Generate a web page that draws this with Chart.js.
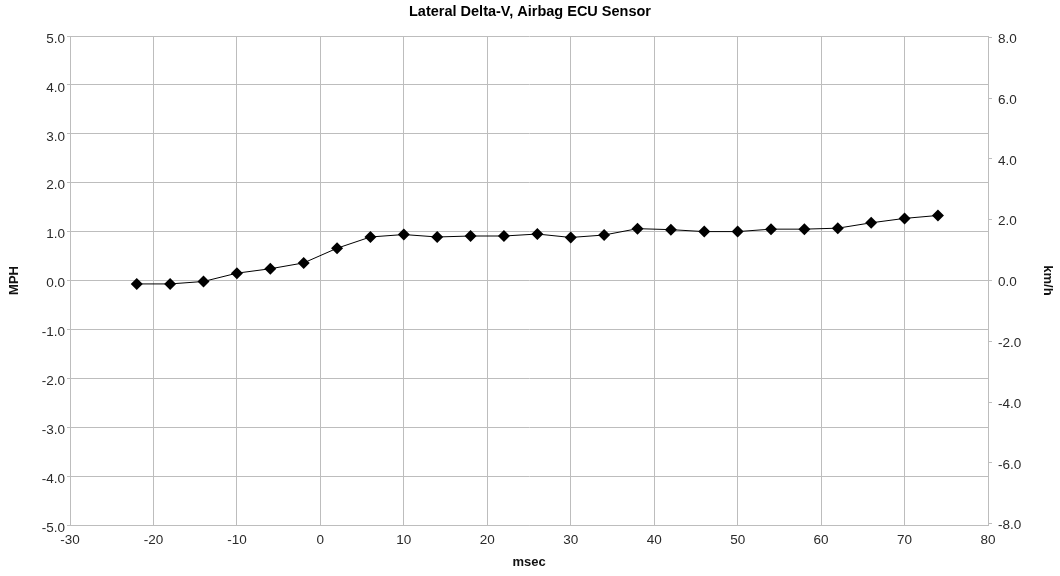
<!DOCTYPE html>
<html>
<head>
<meta charset="utf-8">
<title>Lateral Delta-V, Airbag ECU Sensor</title>
<script src="https://cdn.jsdelivr.net/npm/chart.js@4/dist/chart.umd.min.js"></script>
<style>
  html, body { margin: 0; padding: 0; background: #fff; }
  canvas { display: block; }
</style>
</head>
<body>
<canvas id="chart" width="1060" height="576"></canvas>
<script>
// Sample times (ms) and lateral delta-V (mph) recorded by the airbag ECU
const msec = [-22, -18, -14, -10, -6, -2, 2, 6, 10, 14, 18, 22, 26, 30, 34, 38, 42, 46, 50, 54, 58, 62, 66, 70, 74];
const mph = [-0.07, -0.07, -0.02, 0.15, 0.24, 0.36, 0.66, 0.89, 0.94, 0.89, 0.91, 0.91, 0.95, 0.88, 0.93, 1.06, 1.04, 1.00, 1.00, 1.05, 1.05, 1.07, 1.18, 1.27, 1.33];

// Axis ranges and tick values
const xRange = [-30, 80];
const mphRange = [-5, 5];
const kmhTicks = [-8, -6, -4, -2, 0, 2, 4, 6, 8];
const MPH_TO_KMH = 1.609344;

const FONT = "'Liberation Sans', Arial, Helvetica, sans-serif";
const GRID = '#bdbdbd';
const TEXT = '#2a2a2a';

const points = msec.map((t, i) => ({ x: t, y: mph[i] }));

new Chart(document.getElementById('chart'), {
  type: 'line',
  data: {
    datasets: [{
      data: points,
      yAxisID: 'y',
      borderColor: '#000',
      borderWidth: 1,
      backgroundColor: '#000',
      pointStyle: 'rectRot',
      pointRadius: 6,
      pointBorderWidth: 0,
      pointBackgroundColor: '#000',
      tension: 0,
      fill: false
    }]
  },
  options: {
    responsive: false,
    animation: false,
    events: [],
    layout: { padding: 0 },
    plugins: {
      legend: { display: false },
      tooltip: { enabled: false },
      title: {
        display: true,
        text: 'Lateral Delta-V, Airbag ECU Sensor',
        color: '#000',
        font: { family: FONT, size: 14.5, weight: 'bold', lineHeight: 1.2 },
        padding: { top: 3.3, bottom: 15.3 }
      }
    },
    scales: {
      x: {
        type: 'linear',
        position: 'bottom',
        min: xRange[0],
        max: xRange[1],
        ticks: {
          stepSize: 10,
          color: TEXT,
          padding: 7,
          maxRotation: 0,
          font: { family: FONT, size: 13.5 }
        },
        grid: { color: GRID, lineWidth: 1, drawTicks: false },
        border: { color: GRID },
        title: {
          display: true,
          text: 'msec',
          color: '#111',
          font: { family: FONT, size: 13, weight: 'bold', lineHeight: 1.2 },
          padding: { top: 0, bottom: 6.2 }
        },
        afterFit: s => { s.height = 51; }
      },
      y: {
        type: 'linear',
        position: 'left',
        min: mphRange[0],
        max: mphRange[1],
        ticks: {
          stepSize: 1,
          color: TEXT,
          padding: 2,
          labelOffset: 3,
          font: { family: FONT, size: 13.5 },
          callback: v => v.toFixed(1)
        },
        grid: { color: GRID, lineWidth: 1, tickLength: 3 },
        border: { color: GRID },
        title: {
          display: true,
          text: 'MPH',
          color: '#111',
          font: { family: FONT, size: 13, weight: 'bold', lineHeight: 1.2 },
          padding: { top: 6.2, bottom: 0 }
        },
        afterFit: s => { s.width = 70; }
      },
      y2: {
        type: 'linear',
        position: 'right',
        min: mphRange[0] * MPH_TO_KMH,
        max: mphRange[1] * MPH_TO_KMH,
        afterBuildTicks: s => { s.ticks = kmhTicks.map(v => ({ value: v })); },
        ticks: {
          color: TEXT,
          padding: 6,
          labelOffset: 2,
          font: { family: FONT, size: 13.5 },
          callback: v => v.toFixed(1)
        },
        grid: { drawOnChartArea: false, color: GRID, lineWidth: 1, tickLength: 4 },
        border: { color: GRID },
        title: {
          display: true,
          text: 'km/h',
          color: '#111',
          font: { family: FONT, size: 13, weight: 'bold', lineHeight: 1.2 },
          padding: { top: 4.2, bottom: 0 }
        },
        afterFit: s => { s.width = 72; }
      }
    }
  }
});
</script>
</body>
</html>
